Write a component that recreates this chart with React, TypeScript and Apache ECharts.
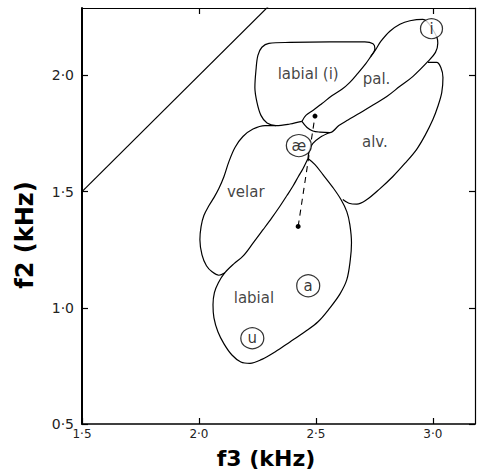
import React, { useEffect, useRef } from 'react';
import * as echarts from 'echarts';

// ---- axis ticks ----
const xTickValues = [1.5, 2.0, 2.5, 3.0];
const xTickLabels = ['1·5', '2·0', '2·5', '3·0'];
const yTickValues = [0.5, 1.0, 1.5, 2.0];
const yTickLabels = ['0·5', '1·0', '1·5', '2·0'];
const topTickValues = [2.0, 3.0];

// ---- outlines (f3 kHz, f2 kHz) ----
const diagonalLine = [[1.5, 1.5], [2.3, 2.3]];

const labialIBoundary = [
  [2.44, 1.802], [2.389, 1.791], [2.329, 1.784], [2.291, 1.795], [2.265, 1.828],
  [2.248, 1.884], [2.239, 1.948], [2.244, 2.026], [2.252, 2.086], [2.269, 2.121],
  [2.299, 2.138], [2.389, 2.142], [2.56, 2.144], [2.709, 2.144], [2.744, 2.136],
  [2.752, 2.116], [2.735, 2.082],
];

const palUpperBoundary = [
  [2.44, 1.802], [2.457, 1.828], [2.487, 1.849], [2.526, 1.879], [2.568, 1.912],
  [2.611, 1.94], [2.645, 1.97], [2.679, 2.009], [2.714, 2.052], [2.735, 2.082],
  [2.756, 2.112], [2.778, 2.147], [2.816, 2.19], [2.859, 2.22], [2.902, 2.235],
  [2.957, 2.241], [2.996, 2.203],
];

const palLowerBoundary = [
  [2.996, 2.203], [3.017, 2.164], [3.021, 2.138], [3.011, 2.099], [2.979, 2.06],
  [2.915, 1.996], [2.859, 1.953], [2.803, 1.909], [2.744, 1.873], [2.688, 1.838],
  [2.637, 1.808], [2.598, 1.784], [2.56, 1.754], [2.517, 1.756], [2.487, 1.761],
  [2.462, 1.776], [2.44, 1.802],
];

const alvOuterBoundary = [
  [2.979, 2.056], [3.016, 2.056], [3.034, 2.034], [3.043, 1.991], [3.038, 1.927],
  [3.021, 1.866], [3.0, 1.81], [2.966, 1.741], [2.93, 1.681], [2.88, 1.621],
  [2.829, 1.565], [2.774, 1.513], [2.718, 1.466], [2.675, 1.446], [2.641, 1.45],
  [2.615, 1.466],
];

const alvLeftBoundary = [
  [2.56, 1.754], [2.517, 1.733], [2.487, 1.707], [2.472, 1.677], [2.466, 1.642],
];

const labialBoundary = [
  [2.466, 1.642], [2.496, 1.616], [2.53, 1.573], [2.573, 1.517], [2.607, 1.466],
  [2.632, 1.414], [2.645, 1.358], [2.652, 1.28], [2.647, 1.207], [2.632, 1.121],
  [2.603, 1.06], [2.56, 1.0], [2.509, 0.94], [2.453, 0.897], [2.389, 0.853],
  [2.325, 0.81], [2.269, 0.778], [2.218, 0.761], [2.179, 0.767], [2.141, 0.797],
  [2.107, 0.845], [2.081, 0.897], [2.064, 0.957], [2.06, 1.013], [2.066, 1.065],
  [2.083, 1.108], [2.111, 1.151], [2.15, 1.19], [2.188, 1.222], [2.231, 1.278],
  [2.274, 1.336], [2.312, 1.388], [2.346, 1.437], [2.376, 1.483], [2.402, 1.524],
  [2.425, 1.565], [2.444, 1.597], [2.466, 1.642],
];

const velarBoundary = [
  [2.111, 1.151], [2.085, 1.14], [2.056, 1.155], [2.032, 1.181], [2.013, 1.228],
  [2.004, 1.293], [2.009, 1.349], [2.021, 1.397], [2.043, 1.44], [2.064, 1.474],
  [2.085, 1.513], [2.107, 1.565], [2.128, 1.629], [2.154, 1.69], [2.188, 1.737],
  [2.231, 1.769], [2.282, 1.784], [2.329, 1.784],
];

const transitionPath = [[2.424, 1.35], [2.496, 1.825]];

const vowelNames = ['i', 'æ', 'a', 'u'];
const vowelPoints = [[2.994, 2.201], [2.427, 1.698], [2.467, 1.095], [2.228, 0.869]];
const vowelSizes = [[22, 20], [25, 22], [23, 22], [23, 21]];

const regionNames = ['labial (i)', 'pal.', 'alv.', 'velar', 'labial'];
const regionPoints = [[2.467, 2.004], [2.759, 1.983], [2.752, 1.712], [2.2, 1.497], [2.235, 1.043]];

const FONT = 'DejaVu Sans';

function fmt(values: number[], labels: string[]) {
  return (v: number) => {
    const i = values.findIndex((t) => Math.abs(t - v) < 1e-6);
    return i >= 0 ? labels[i] : '';
  };
}

function boundarySeries(data: number[][]) {
  return {
    type: 'line',
    data,
    smooth: 0.35,
    showSymbol: false,
    symbol: 'none',
    lineStyle: { color: '#000', width: 1.2 },
    z: 2,
    silent: true,
  };
}

export default function App() {
  const ref = useRef<HTMLDivElement>(null);
  useEffect(() => {
    if (!ref.current) return;
    const chart = echarts.init(ref.current, undefined, { renderer: 'svg' });
    const tick = { show: true, inside: true, length: 6, lineStyle: { color: '#000', width: 1.2 } };
    const commonX = {
      type: 'value',
      min: 1.5,
      max: 3.18,
      interval: 0.5,
      splitLine: { show: false },
    };
    const commonY = {
      type: 'value',
      min: 0.5,
      max: 2.29,
      interval: 0.5,
      splitLine: { show: false },
      axisTick: tick,
    };
    chart.setOption({
      animation: false,
      backgroundColor: '#fff',
      grid: { left: 82, top: 8, right: 2, bottom: 46, containLabel: false },
      xAxis: [
        {
          ...commonX,
          position: 'bottom',
          axisTick: tick,
          axisLine: { show: true, onZero: false, lineStyle: { color: '#000', width: 1.5 } },
          axisLabel: {
            formatter: fmt(xTickValues, xTickLabels),
            color: '#222',
            fontFamily: FONT,
            fontSize: 12,
            margin: 4,
            showMaxLabel: false,
          },
        },
        {
          ...commonX,
          position: 'top',
          axisTick: { ...tick, customValues: topTickValues },
          axisLine: { show: true, onZero: false, lineStyle: { color: '#000', width: 1.2 } },
          axisLabel: { show: false },
        },
      ],
      yAxis: [
        {
          ...commonY,
          position: 'left',
          axisLine: { show: true, onZero: false, lineStyle: { color: '#000', width: 2 } },
          axisLabel: {
            formatter: fmt(yTickValues, yTickLabels),
            color: '#222',
            fontFamily: FONT,
            fontSize: 14,
            margin: 8,
            showMaxLabel: false,
          },
        },
        {
          ...commonY,
          position: 'right',
          axisLine: { show: true, onZero: false, lineStyle: { color: '#000', width: 1.2 } },
          axisLabel: { show: false },
        },
      ],
      graphic: [
        {
          type: 'text',
          x: 25,
          y: 235,
          rotation: Math.PI / 2,
          style: {
            text: 'f2 (kHz)',
            fontFamily: FONT,
            fontWeight: 'bold',
            fontSize: 24,
            fill: '#000',
            textAlign: 'center',
            textVerticalAlign: 'middle',
          },
        },
        {
          type: 'text',
          x: 266,
          y: 458,
          style: {
            text: 'f3 (kHz)',
            fontFamily: FONT,
            fontWeight: 'bold',
            fontSize: 22,
            fill: '#000',
            textAlign: 'center',
            textVerticalAlign: 'middle',
          },
        },
      ],
      series: [
        {
          type: 'line',
          data: diagonalLine,
          showSymbol: false,
          symbol: 'none',
          clip: true,
          lineStyle: { color: '#000', width: 1.2 },
          z: 2,
        },
        boundarySeries(labialIBoundary),
        boundarySeries(palUpperBoundary),
        boundarySeries(palLowerBoundary),
        boundarySeries(alvOuterBoundary),
        boundarySeries(alvLeftBoundary),
        boundarySeries(labialBoundary),
        boundarySeries(velarBoundary),
        {
          type: 'line',
          data: transitionPath,
          symbol: 'circle',
          symbolSize: 5,
          showSymbol: true,
          itemStyle: { color: '#000' },
          lineStyle: { color: '#000', width: 1.1, type: [6, 5] },
          z: 3,
        },
        {
          type: 'scatter',
          data: vowelPoints.map((p, i) => ({
            value: p,
            name: vowelNames[i],
            symbolSize: vowelSizes[i],
          })),
          symbol: 'circle',
          itemStyle: { color: '#fff', borderColor: '#000', borderWidth: 1.2 },
          label: {
            show: true,
            position: 'inside',
            formatter: (p: any) => p.name,
            color: '#000',
            fontFamily: FONT,
            fontSize: 15,
          },
          z: 5,
        },
        {
          type: 'scatter',
          data: regionPoints.map((p, i) => ({ value: p, name: regionNames[i] })),
          symbolSize: 0,
          label: {
            show: true,
            position: 'inside',
            formatter: (p: any) => p.name,
            color: '#111',
            fontFamily: FONT,
            fontSize: 15,
          },
          z: 6,
        },
      ],
    });
    return () => chart.dispose();
  }, []);
  return (
    <div
      ref={ref}
      style={{ position: 'absolute', left: 0, top: 0, width: 477, height: 470 }}
    />
  );
}
